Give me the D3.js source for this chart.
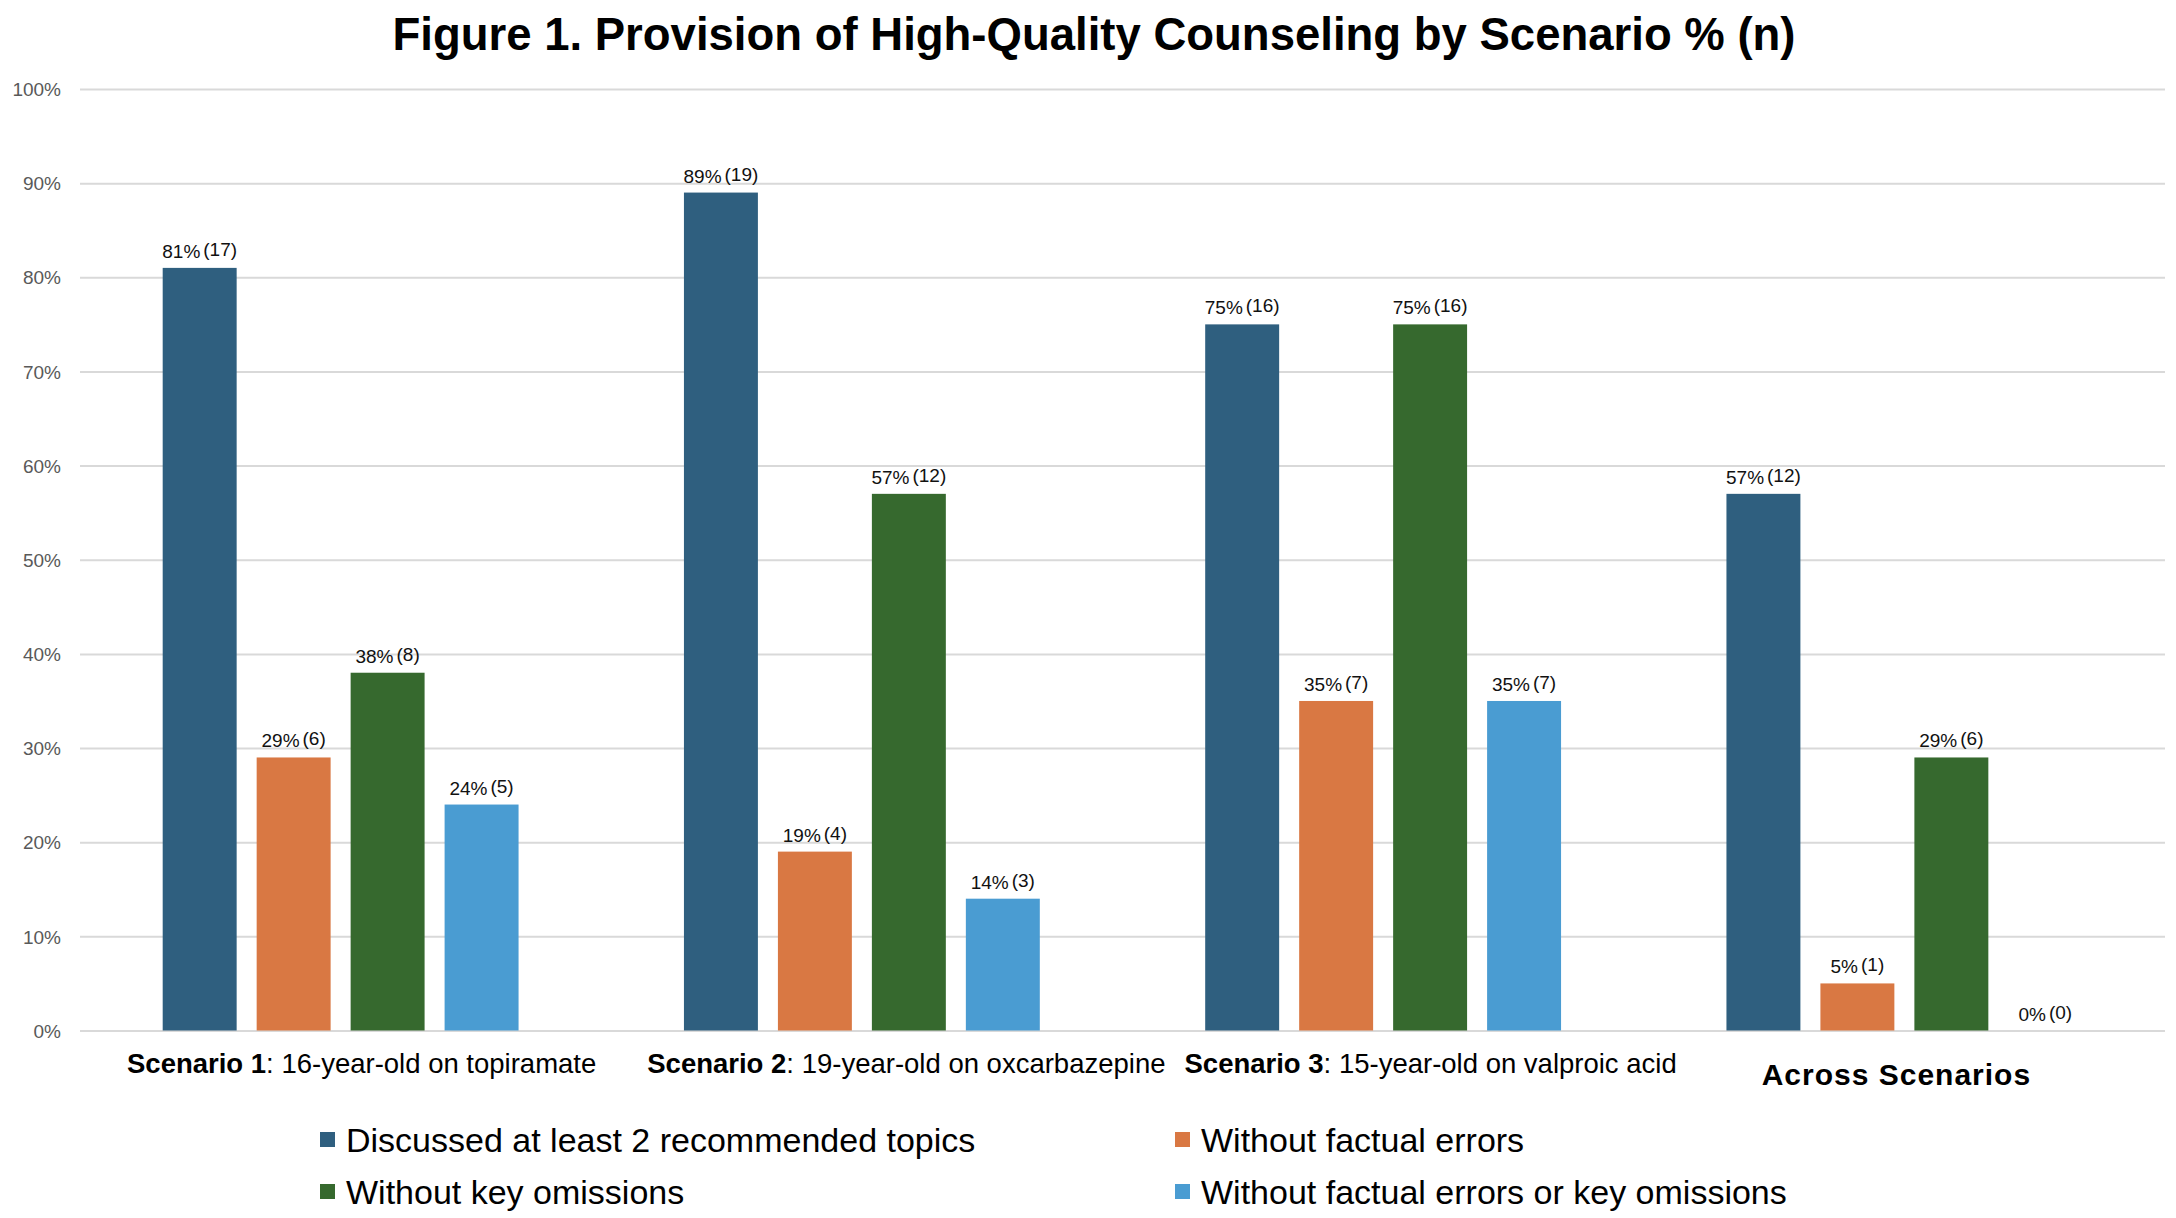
<!DOCTYPE html>
<html lang="en">
<head>
  <meta charset="UTF-8">
  <title>Figure 1</title>
  <script src="https://d3js.org/d3.v7.min.js"></script>
  <style>
    body {
      margin: 0;
      background: #fff;
    }
    svg text {
      font-family: "Liberation Sans", Arial, sans-serif;
    }
    .grid line {
      stroke: #d9d9d9;
      stroke-width: 2px;
    }
    .ytick {
      fill: #595959;
      font-size: 19px;
    }
    .vlabel {
      fill: #111;
      font-size: 19px;
    }
  </style>
</head>
<body>
  <div id="chart"></div>

  <script>
    const categories = ["Scenario 1", "Scenario 2", "Scenario 3", "Across Scenarios"];
    const categoryDetails = [": 16-year-old on topiramate", ": 19-year-old on oxcarbazepine", ": 15-year-old on valproic acid", ""];

    const seriesNames = [
      "Discussed at least 2 recommended topics",
      "Without factual errors",
      "Without key omissions",
      "Without factual errors or key omissions"
    ];
    const seriesColors = ["#2f5f7f", "#d97843", "#36692e", "#4a9cd2"];

    // percent of respondents
    const discussedPct = [81, 89, 75, 57];
    const noErrorsPct = [29, 19, 35, 5];
    const noOmissionsPct = [38, 57, 75, 29];
    const neitherPct = [24, 14, 35, 0];

    // n
    const discussedN = [17, 19, 16, 12];
    const noErrorsN = [6, 4, 7, 1];
    const noOmissionsN = [8, 12, 16, 6];
    const neitherN = [5, 3, 7, 0];

    const yTicks = [0, 10, 20, 30, 40, 50, 60, 70, 80, 90, 100];

    const pctBySeries = [discussedPct, noErrorsPct, noOmissionsPct, neitherPct];
    const nBySeries = [discussedN, noErrorsN, noOmissionsN, neitherN];

    const width = 2176, height = 1218;
    const margin = {top: 89, right: 11, bottom: 188, left: 80};

    const svg = d3.select("#chart").append("svg")
      .attr("width", width)
      .attr("height", height);

    const x0 = d3.scaleBand()
      .domain(categories)
      .range([margin.left, width - margin.right])
      .padding(0);

    const x1 = d3.scaleBand()
      .domain(seriesNames)
      .range([0, x0.bandwidth()])
      .paddingInner(0.213)
      .paddingOuter(0.88);

    const y = d3.scaleLinear()
      .domain([0, 100])
      .range([height - margin.bottom + 0.5, margin.top]);

    // title
    svg.append("text")
      .attr("x", 1094)
      .attr("y", 50)
      .attr("text-anchor", "middle")
      .style("font-size", "45.5px")
      .style("font-weight", "bold")
      .text("Figure 1. Provision of High-Quality Counseling by Scenario % (n)");

    // gridlines + y labels
    const yAxis = d3.axisLeft(y)
      .tickValues(yTicks)
      .tickSize(-(width - margin.left - margin.right))
      .tickFormat(d => d + "%");

    const gy = svg.append("g")
      .attr("class", "grid")
      .attr("transform", `translate(${margin.left},0)`)
      .call(yAxis);
    gy.select(".domain").remove();
    gy.selectAll("text")
      .attr("class", "ytick")
      .attr("x", -19)
      .attr("dy", "0.35em");

    // bars
    const rows = [];
    categories.forEach((c, ci) => {
      seriesNames.forEach((s, si) => {
        rows.push({cat: c, series: s, si: si, pct: pctBySeries[si][ci], n: nBySeries[si][ci]});
      });
    });

    svg.append("g").selectAll("rect")
      .data(rows)
      .join("rect")
      .attr("x", d => x0(d.cat) + x1(d.series))
      .attr("y", d => y(d.pct))
      .attr("width", x1.bandwidth())
      .attr("height", d => y(0) - y(d.pct))
      .attr("fill", d => seriesColors[d.si]);

    // value labels
    const lab = svg.append("g").selectAll("text")
      .data(rows)
      .join("text")
      .attr("class", "vlabel")
      .attr("x", d => x0(d.cat) + x1(d.series) + x1.bandwidth() / 2)
      .attr("y", d => y(d.pct) - 10)
      .attr("text-anchor", "middle");
    lab.append("tspan").text(d => d.pct + "%");
    lab.append("tspan").attr("dx", 3).attr("dy", -2).text(d => "(" + d.n + ")");

    // category labels
    const catShift = [47, 46, 62];
    categories.forEach((c, i) => {
      if (categoryDetails[i]) {
        const t = svg.append("text")
          .attr("x", x0(c) + catShift[i])
          .attr("y", 1073)
          .style("font-size", "27.5px");
        t.append("tspan").style("font-weight", "bold").text(c);
        t.append("tspan").text(categoryDetails[i]);
      } else {
        svg.append("text")
          .attr("x", x0(c) + x0.bandwidth() / 2 - 8)
          .attr("y", 1085)
          .attr("text-anchor", "middle")
          .style("font-size", "30px")
          .style("font-weight", "bold")
          .style("letter-spacing", "1px")
          .text(c);
      }
    });

    // legend
    const legX = [320, 1175];
    const legY = [1152, 1204];
    const leg = svg.append("g").selectAll("g")
      .data(seriesNames)
      .join("g")
      .attr("transform", (d, i) => `translate(${legX[i % 2]},${legY[Math.floor(i / 2)]})`);
    leg.append("rect")
      .attr("x", 0)
      .attr("y", -20)
      .attr("width", 15)
      .attr("height", 15)
      .attr("fill", (d, i) => seriesColors[i]);
    leg.append("text")
      .attr("x", 26)
      .attr("y", 0)
      .style("font-size", "34px")
      .text(d => d);
  </script>
</body>
</html>
